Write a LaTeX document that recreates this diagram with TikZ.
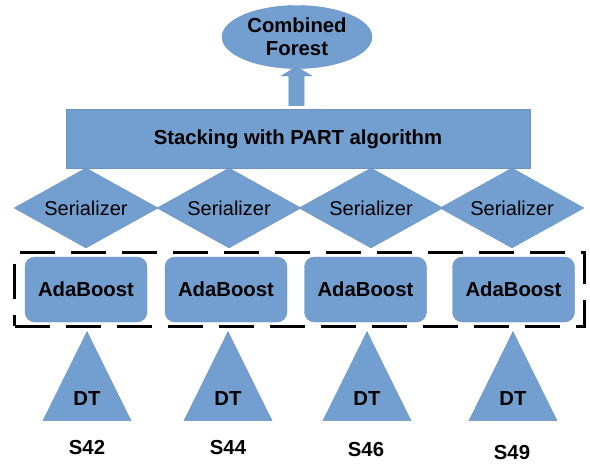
\documentclass[tikz,border=0pt]{standalone}
\usepackage{fontspec}
\setmainfont{Liberation Sans}
\usetikzlibrary{positioning}
\usetikzlibrary{shapes.geometric}
\usetikzlibrary{shapes.arrows}
\usetikzlibrary{fit}
\definecolor{boxblue}{HTML}{729FCF}
\definecolor{edgeblue}{HTML}{6A93C2}

\begin{document}
\begin{tikzpicture}[x=1pt, y=-1pt,
bluenode/.style={fill=boxblue, draw=edgeblue, thin, font=\fontsize{20.3}{23}\selectfont\bfseries},
forestnode/.style={bluenode, ellipse, minimum width=150pt, minimum height=63pt, inner sep=0pt, align=center},
stacknode/.style={bluenode, rectangle, minimum width=464pt, minimum height=59pt},
sernode/.style={bluenode, diamond, aspect=1.8, minimum width=144pt, minimum height=80pt, inner sep=0pt, font=\fontsize{20}{23}\selectfont},
adanode/.style={bluenode, rectangle, rounded corners=10pt, minimum width=122pt, minimum height=65pt},
dtnode/.style={bluenode, isosceles triangle, isosceles triangle stretches, shape border rotate=90, minimum width=88pt, minimum height=89pt, inner sep=0pt},
uparrow/.style={fill=boxblue, draw=edgeblue, thin, single arrow, rotate=90, minimum height=39pt, inner sep=7.5pt, single arrow head extend=7.5pt, single arrow tip angle=118},
dashbox/.style={draw=black, line width=3pt, dash pattern=on 35pt off 16pt, inner xsep=10pt, inner ysep=4pt},
sitenode/.style={font=\fontsize{20.3}{23}\selectfont\bfseries}]
\useasboundingbox (0,0) rectangle (590,464);

\node[forestnode] (forest) at (297,37) {Combined\\Forest};
\node[stacknode] (stack) at (298,139) {Stacking with PART algorithm};
\node[uparrow] (up) at (296.5,88.5) {};

\node[sernode] (ser1) at (86,208) {Serializer};
\node[sernode] (ser2) at (229,208) {Serializer};
\node[sernode] (ser3) at (371,208) {Serializer};
\node[sernode] (ser4) at (512,208) {Serializer};

\node[adanode] (ada1) at (86,289.5) {AdaBoost};
\node[adanode] (ada2) at (226,289.5) {AdaBoost};
\node[adanode] (ada3) at (365.5,289.5) {AdaBoost};
\node[adanode] (ada4) at (513.5,289.5) {AdaBoost};
\node[dashbox, fit=(ada1)(ada4)] (ensemble) {};

\node[dtnode] (dt1) at (87,399) {DT};
\node[dtnode] (dt2) at (228,399) {DT};
\node[dtnode] (dt3) at (367,399) {DT};
\node[dtnode] (dt4) at (513,399) {DT};

\node[sitenode] (s42) at (87,448) {S42};
\node[sitenode] (s44) at (228,448) {S44};
\node[sitenode] (s46) at (366,450) {S46};
\node[sitenode] (s49) at (512,453) {S49};
\end{tikzpicture}
\end{document}
